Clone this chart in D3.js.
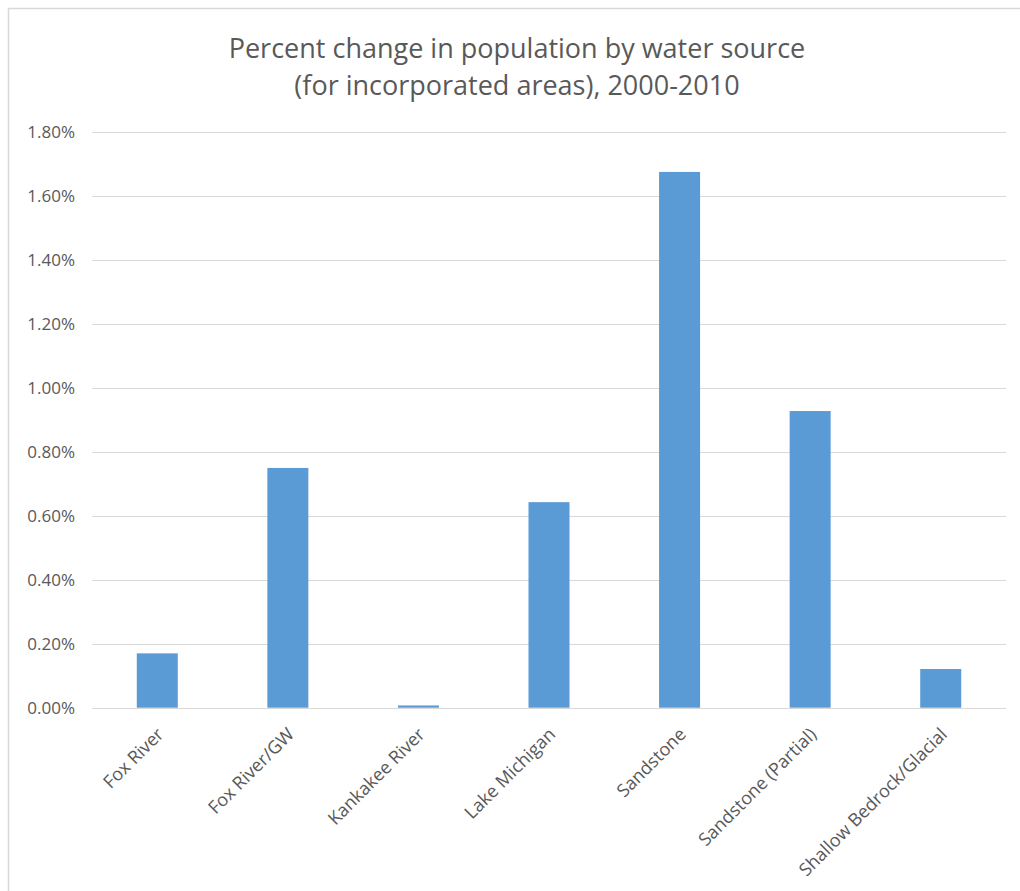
<!DOCTYPE html>
<html><head><meta charset="utf-8">
<script src="https://cdn.jsdelivr.net/npm/d3@7"></script>
<style>body{margin:0;background:#fff}svg{display:block}</style>
</head><body>
<svg id="c" width="1020" height="891"></svg>
<script>
const categories = ["Fox River","Fox River/GW","Kankakee River","Lake Michigan","Sandstone","Sandstone (Partial)","Shallow Bedrock/Glacial"];
const values = [0.0017,0.0075,0.00007,0.00643,0.01676,0.00928,0.00121];
const yTicks = [0,0.002,0.004,0.006,0.008,0.010,0.012,0.014,0.016,0.018];
const titleLines = ["Percent change in population by water source","(for incorporated areas), 2000-2010"];

const svg = d3.select("#c");
const font = "'Open Sans', 'Liberation Sans', sans-serif";
// frame
svg.append("path").attr("d","M8.5,891 V8.5 H1020").attr("fill","none").attr("stroke","#d9d9d9").attr("stroke-width",1.5);

const x = d3.scaleBand().domain(categories).range([92,1006]).paddingInner(0.686).paddingOuter(0.343);
const y = d3.scaleLinear().domain([0,0.018]).range([707.7,132.3]);

const g = svg.append("g");
g.append("g").selectAll("line").data(yTicks).join("line")
  .attr("x1",92).attr("x2",1006).attr("y1",d=>Math.round(y(d))+0.5).attr("y2",d=>Math.round(y(d))+0.5)
  .attr("stroke","#d9d9d9").attr("stroke-width",1);

const yAxis = d3.axisLeft(y).tickValues(yTicks).tickFormat(d3.format(".2%")).tickSize(0).tickPadding(0);
const ya = svg.append("g").attr("transform","translate(75,0)").call(yAxis);
ya.select(".domain").remove();
ya.selectAll("text").attr("font-family",font).attr("font-size",17).attr("fill","#595959");

g.selectAll("rect").data(values).join("rect")
  .attr("x",(d,i)=>x(categories[i])).attr("width",x.bandwidth())
  .attr("y",d=>y(d)).attr("height",d=>y(0)-y(d))
  .attr("fill","#5b9bd5");

const xAxis = d3.axisBottom(x).tickSize(0).tickPadding(0);
const xa = svg.append("g").attr("transform","translate(0,718)").call(xAxis);
xa.select(".domain").remove();
xa.selectAll("text").attr("font-family",font).attr("font-size",18).attr("fill","#595959")
  .attr("text-anchor","end").attr("dy","0.35em")
  .attr("transform","translate(3,13) rotate(-45)");

svg.append("g").selectAll("text").data(titleLines).join("text")
  .attr("x",517).attr("y",(d,i)=>58+i*37).attr("text-anchor","middle")
  .attr("font-family",font).attr("font-size",27).attr("fill","#595959").text(d=>d);
</script>
</body></html>
